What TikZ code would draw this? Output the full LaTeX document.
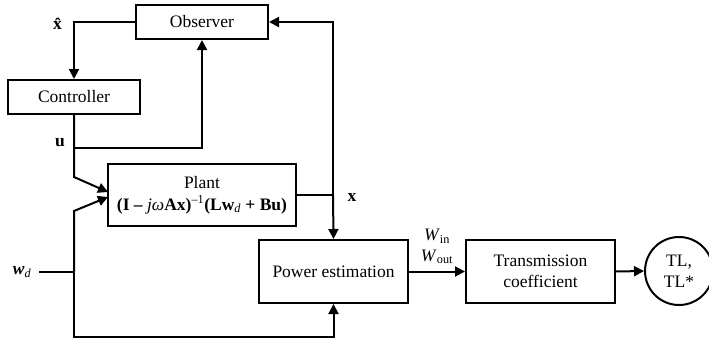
\documentclass[tikz,border=0pt]{standalone}
\usepackage{fontspec}
\setmainfont{Liberation Serif}
\usetikzlibrary{arrows.meta}
\begin{document}
\begin{tikzpicture}[x=1pt,y=-1pt,
  every node/.style={font=\fontsize{17.5}{21}\selectfont},
  blk/.style={draw,line width=2pt,minimum width=#1,inner sep=0pt,align=center},
  ln/.style={line width=2pt},
  ar/.style={line width=2pt,-{Triangle[length=10pt,width=10pt]}},
  lbl/.style={inner sep=0pt}]
\useasboundingbox (0,0) rectangle (709,340);
\node[blk=132pt,minimum height=34pt] (obs) at (202,22) {Observer};
\node[blk=132pt,minimum height=34pt] (ctrl) at (74,97) {Controller};
\node[blk=188pt,minimum height=62pt] (plant) at (202,195) {Plant\\[1pt]{\bfseries (I – }\textit{jω}\textbf{Ax)}\textsuperscript{–1}\textbf{(Lw}\textsubscript{\itshape d}\textbf{ + Bu)}};
\node[blk=149pt,minimum height=63pt] (pow) at (333.5,271.5) {Power estimation};
\node[blk=149pt,minimum height=63pt] (trans) at (540.5,271.5) {Transmission\\coefficient};
\node[draw,line width=2pt,circle,minimum size=68pt,inner sep=0pt,align=center] (tl) at (679,271) {TL,\\TL*};
% coordinates
\coordinate (xh) at (74,22);
\coordinate (u) at (74,148);
\coordinate (ubend) at (74,177);
\coordinate (uin) at (108,192);
\coordinate (wdstart) at (39,272);
\coordinate (jw) at (74,272);
\coordinate (wbend) at (74,211);
\coordinate (win) at (108,197);
\coordinate (wbot) at (74,337);
\coordinate (jx) at (333,194.5);
\coordinate (xtop) at (333,22);
% connectors
\draw[ar] (obs.west) -- (xh) -- (ctrl.north);
\draw[ar] (ctrl.south) -- (ubend) -- (uin);
\draw[ar] (u) -| (obs.south);
\draw[ln] (wdstart) -- (jw);
\draw[ar] (jw) -- (wbend) -- (win);
\draw[ar] (jw) -- (wbot) -| (pow.south);
\draw[ln] (plant.east |- jx) -- (jx);
\draw[ar] (jx) -- (xtop) -- (obs.east);
\draw[ar] (jx) -- (pow.north);
\draw[ar] (pow.east) -- (trans.west);
\draw[ar] (trans.east) -- (tl.west);
% labels
\node[lbl] (lxh) at (59,24) {\textbf{\^{x}}};
\node[lbl] (lu) at (60,143) {\textbf{u}};
\node[lbl] (lx) at (352,197) {\textbf{x}};
\node[lbl] (lwd) at (22,272) {\textbf{\textit{w}}\textsubscript{\itshape d}};
\node[lbl] (lwin) at (437,236) {\textit{W}\textsubscript{in}};
\node[lbl] (lwout) at (437,257) {\textit{W}\textsubscript{out}};
\end{tikzpicture}
\end{document}
